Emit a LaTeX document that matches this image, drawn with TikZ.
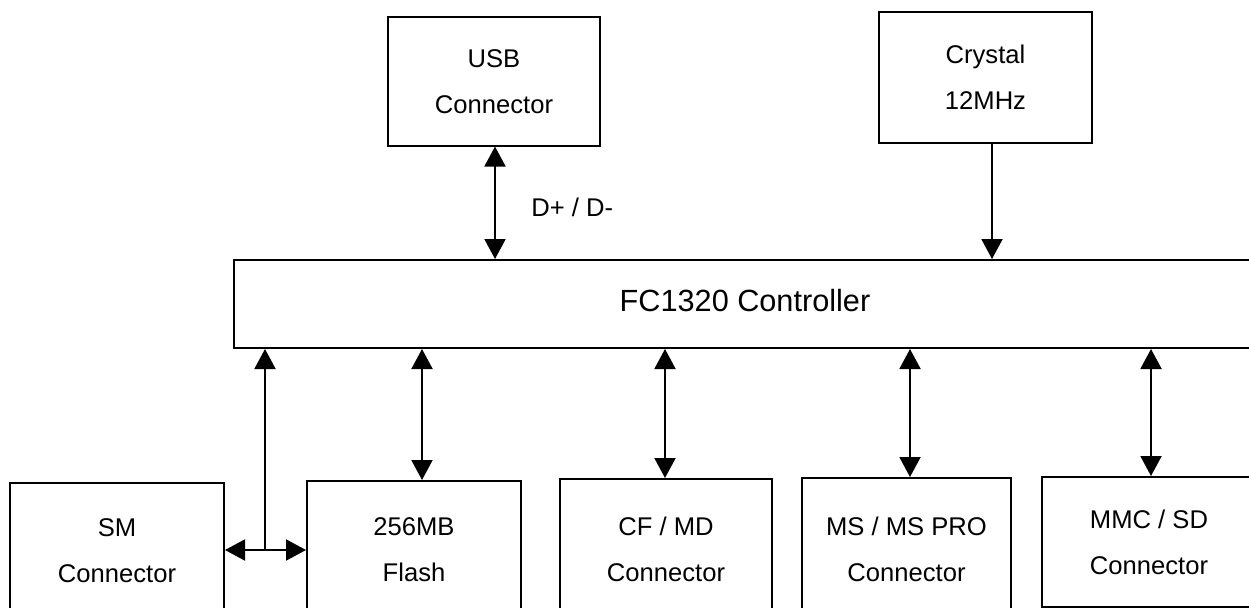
\documentclass[tikz,border=0pt]{standalone}
\usepackage{fontspec}
\setmainfont{Liberation Sans}
\usetikzlibrary{arrows.meta}
\begin{document}
\begin{tikzpicture}[x=0.75pt,y=-0.75pt,
  box/.style={draw, line width=1.5pt, inner sep=0pt, align=center,
              font=\fontsize{19.2}{34.5}\selectfont},
  thinbox/.style={box, line width=0.8pt},
  tipA/.tip={Triangle[length=15pt,width=15.75pt]},
  link/.style={line width=1.5pt, tipA-tipA},
  feed/.style={line width=1.5pt, -tipA},
  lbl/.style={font=\fontsize{19.2}{23}\selectfont, inner sep=0pt}]
\clip (0,0) rectangle (1249,607);
\fill[white] (0,0) rectangle (1249,607);

% top boxes
\node[thinbox, minimum width=159pt, minimum height=96.75pt] (usb) at (494,81.5) {USB\\Connector};
\node[thinbox, minimum width=159.75pt, minimum height=98.25pt] (xtal) at (985.5,77.5) {Crystal\\12MHz};

% controller
\node[box, minimum width=766.5pt, minimum height=66pt, font=\fontsize{23}{28}\selectfont, text depth=6pt] (ctrl) at (745,304) {FC1320 Controller};

% bottom boxes
\node[box, minimum width=160.5pt, minimum height=102pt] (sm) at (117,551) {SM\\Connector};
\node[box, minimum width=160.5pt, minimum height=103.5pt] (flash) at (414,550) {256MB\\Flash};
\node[box, minimum width=159pt, minimum height=105pt] (cf) at (666,549) {CF / MD\\Connector};
\node[box, minimum width=156.75pt, minimum height=106.5pt] (ms) at (906.5,549) {MS / MS PRO\\Connector};
\node[box, minimum width=160.5pt, minimum height=97.5pt] (mmc) at (1149,542) {MMC / SD\\Connector};

% x positions of the connectors
\coordinate (xusb) at (495,0);
\coordinate (xcry) at (992,0);
\coordinate (xsm) at (265,0);
\coordinate (xfl) at (422,0);
\coordinate (xcf) at (665,0);
\coordinate (xms) at (910,0);
\coordinate (xmmc) at (1151,0);
\coordinate (jn) at (265,550);

% connectors
\draw[link] (usb.south -| xusb) -- (ctrl.north -| xusb);
\node[lbl, anchor=west] (dlbl) at (531,207) {D+ / D-};
\draw[feed] (xtal.south -| xcry) -- (ctrl.north -| xcry);

\draw[line width=1.5pt, -tipA] (jn) -- (ctrl.south -| xsm);
\draw[link] (sm.east |- jn) -- (flash.west |- jn);
\draw[link] (ctrl.south -| xfl) -- (flash.north -| xfl);
\draw[link] (ctrl.south -| xcf) -- (cf.north -| xcf);
\draw[link] (ctrl.south -| xms) -- (ms.north -| xms);
\draw[link] (ctrl.south -| xmmc) -- (mmc.north -| xmmc);
\end{tikzpicture}
\end{document}
